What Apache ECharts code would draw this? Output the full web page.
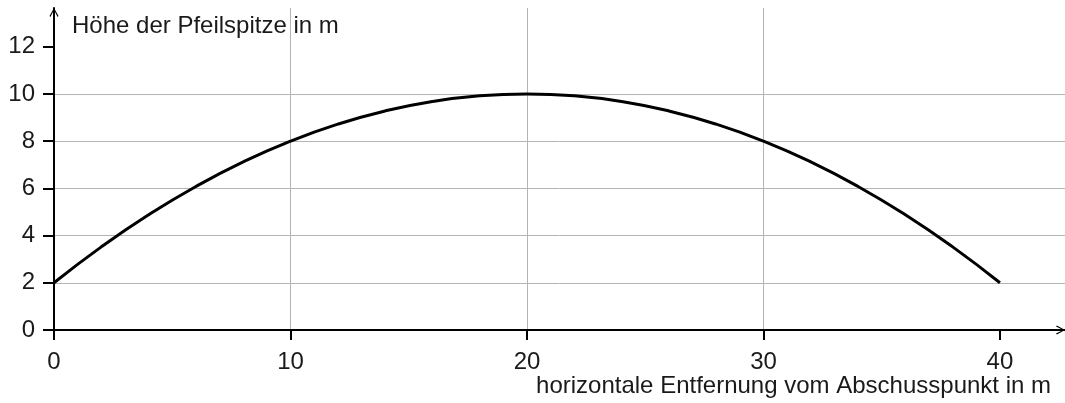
<!DOCTYPE html>
<html>
<head>
<meta charset="utf-8">
<script src="https://cdn.jsdelivr.net/npm/echarts@6/dist/echarts.min.js"></script>
<style>
  html, body { margin: 0; padding: 0; background: #fff; }
  #chart { width: 1065px; height: 403px; }
</style>
</head>
<body>
<div id="chart"></div>
<script>
// values
var distance = [0, 2, 4, 6, 8, 10, 12, 14, 16, 18, 20, 22, 24, 26, 28, 30, 32, 34, 36, 38, 40];
var height = [2, 3.52, 4.88, 6.08, 7.12, 8, 8.72, 9.28, 9.68, 9.92, 10, 9.92, 9.68, 9.28, 8.72, 8, 7.12, 6.08, 4.88, 3.52, 2];
var xTicks = [0, 10, 20, 30, 40];
var yTicks = [0, 2, 4, 6, 8, 10, 12];
var xName = 'horizontale Entfernung vom Abschusspunkt in m';
var yName = 'Höhe der Pfeilspitze in m';

var FONT = '"Liberation Sans", Arial, sans-serif';
var ARROW = 'path://M0,9 L5,0 L10,9 L9,10 L5,2.2 L1,10 Z';

var points = [];
for (let i = 0; i < distance.length; i++) {
    points.push([distance[i], height[i]]);
}

var myChart = echarts.init(document.getElementById('chart'));

var option = {
    animation: false,
    grid: {
        left: 54,
        right: 0,
        top: 8,
        bottom: 73,
        containLabel: false,
        outerBoundsMode: 'none'
    },
    xAxis: {
        type: 'value',
        min: 0,
        max: 42.75,
        interval: 10,
        name: xName,
        nameLocation: 'end',
        nameGap: -14,
        nameTextStyle: {
            fontFamily: FONT,
            fontSize: 24,
            color: '#1a1a1a',
            align: 'right',
            verticalAlign: 'top',
            padding: [44, 0, 0, 0]
        },
        axisLine: {
            onZero: false,
            symbol: ['none', ARROW],
            symbolSize: [13, 9],
            symbolOffset: [0, -4.5],
            lineStyle: { color: '#000', width: 2 }
        },
        axisTick: {
            customValues: xTicks,
            length: 10,
            lineStyle: { color: '#000', width: 2 }
        },
        axisLabel: {
            customValues: xTicks,
            margin: 20,
            fontFamily: FONT,
            fontSize: 24,
            color: '#1a1a1a'
        },
        splitLine: {
            show: true,
            showMinLine: false,
            showMaxLine: false,
            lineStyle: { color: '#b4b4b4', width: 1 }
        }
    },
    yAxis: {
        type: 'value',
        min: 0,
        max: 13.64,
        interval: 2,
        name: yName,
        nameLocation: 'end',
        nameGap: -18,
        nameTextStyle: {
            fontFamily: FONT,
            fontSize: 24,
            color: '#1a1a1a',
            align: 'left',
            verticalAlign: 'middle',
            padding: [0, 0, 0, 18]
        },
        axisLine: {
            onZero: false,
            symbol: ['none', ARROW],
            symbolSize: [13, 9],
            symbolOffset: [0, -4.5],
            lineStyle: { color: '#000', width: 2 }
        },
        axisTick: {
            customValues: yTicks,
            length: 11,
            lineStyle: { color: '#000', width: 2 }
        },
        axisLabel: {
            customValues: yTicks,
            margin: 19,
            fontFamily: FONT,
            fontSize: 24,
            color: '#1a1a1a'
        },
        splitLine: {
            show: true,
            showMinLine: false,
            showMaxLine: false,
            lineStyle: { color: '#b4b4b4', width: 1 }
        }
    },
    series: [{
        type: 'line',
        data: points,
        smooth: true,
        showSymbol: false,
        lineStyle: { color: '#000', width: 3 },
        z: 5
    }]
};

myChart.setOption(option);
</script>
</body>
</html>
